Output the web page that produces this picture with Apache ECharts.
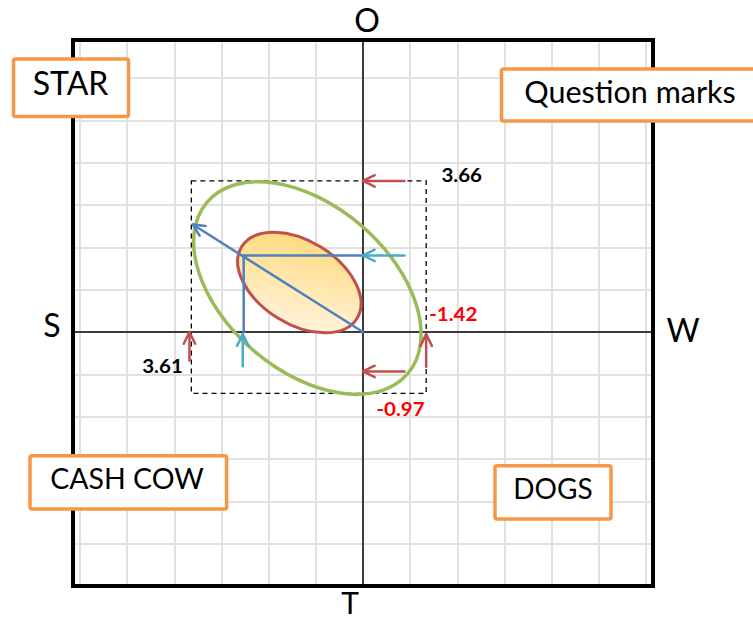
<!DOCTYPE html>
<html><head><meta charset="utf-8">
<script src="https://cdn.jsdelivr.net/npm/echarts@6/dist/echarts.min.js"></script>
<style>html,body{margin:0;padding:0;background:#fff}#c{width:753px;height:622px}</style>
</head><body><div id="c"></div>
<script>
// ---- data ----
const gridXs = [-6, -5, -4, -3, -2, -1, 0, 1, 2, 3, 4, 5, 6];
const gridYs = [-6, -5, -4, -3, -2, -1, 0, 1, 2, 3, 4, 5, 6];
const quadrantNames = ['STAR', 'Question marks', 'CASH COW', 'DOGS'];
const axisLetters = ['O', 'T', 'S', 'W'];
const edgeValues = ['3.66', '3.61', '-1.42', '-0.97'];
// ellipse: [centerX, centerY, semiMajor, semiMinor, tiltDeg]
const outerEllipse = [-1.18, 1.04, 2.80, 1.75, 40.6];
const innerEllipse = [-1.35, 1.17, 1.44, 0.88, 32];
// box: [xMin, xMax, yMin, yMax]
const dashedBox = [-3.64, 1.34, -1.45, 3.57];
// segments: [x1, y1, x2, y2]
const blueLines = [[-2.52, 1.81, 0, 1.81], [-2.53, 1.81, -2.53, 0]];
const blueArrow = [[0, 0, -3.61, 2.54]];
const cyanArrows = [[0.88, 1.81, 0.0, 1.81], [-2.55, -0.81, -2.55, -0.05]];
const redArrows = [[0.88, 3.57, 0.0, 3.57], [0.88, -0.93, 0.0, -0.93], [-3.68, -0.68, -3.68, 0.0], [1.34, -0.82, 1.34, -0.05]];

// ---- helpers ----
function arrowSeries(name, data, color, head, z) {
  return {
    type: 'custom', name: name, coordinateSystem: 'cartesian2d', z: z, silent: true,
    data: data, encode: { x: [0, 2], y: [1, 3] },
    renderItem: function (params, api) {
      const p1 = api.coord([api.value(0), api.value(1)]);
      const p2 = api.coord([api.value(2), api.value(3)]);
      const children = [{ type: 'line', shape: { x1: p1[0], y1: p1[1], x2: p2[0], y2: p2[1] },
        style: { stroke: color, lineWidth: 2.5, lineCap: 'round' } }];
      if (head) {
        const dx = p2[0] - p1[0], dy = p2[1] - p1[1], len = Math.hypot(dx, dy);
        const ux = dx / len, uy = dy / len, L = 13, a = 26 * Math.PI / 180;
        const w = function (s) {
          return [p2[0] - L * (ux * Math.cos(a) - s * uy * Math.sin(a)),
                  p2[1] - L * (uy * Math.cos(a) + s * ux * Math.sin(a))];
        };
        children.push({ type: 'polyline', shape: { points: [w(1), p2, w(-1)] },
          style: { stroke: color, fill: null, lineWidth: 2.5, lineJoin: 'round', lineCap: 'round' } });
      }
      return { type: 'group', children: children };
    }
  };
}
function ellipseSeries(name, e, styleFn, z) {
  return {
    type: 'custom', name: name, coordinateSystem: 'cartesian2d', z: z, silent: true,
    data: [e], encode: { x: 0, y: 1 },
    renderItem: function (params, api) {
      const c = api.coord([api.value(0), api.value(1)]);
      const rx = api.size([api.value(2), 0])[0];
      const ry = api.size([api.value(3), 0])[0];
      const th = api.value(4) * Math.PI / 180;
      return { type: 'ellipse', x: c[0], y: c[1], rotation: -th,
        shape: { cx: 0, cy: 0, rx: rx, ry: ry }, style: styleFn(th) };
    }
  };
}

const chart = echarts.init(document.getElementById('c'), null, { renderer: 'svg' });
const font = 'Lato';

function box(x, y, w, h, text, tx, ty, size) {
  return [
    { type: 'rect', z: 50, shape: { x: x, y: y, width: w, height: h, r: 2 },
      style: { fill: '#fff', stroke: '#F79646', lineWidth: 3.5 } },
    { type: 'text', z: 51, x: tx, y: ty,
      style: { text: text, fontFamily: font, fontSize: size, fill: '#000', align: 'center', verticalAlign: 'middle' } }
  ];
}
function label(text, x, y, size, color, weight, sx) {
  return { type: 'text', z: 52, x: x, y: y, scaleX: sx || 1,
    style: { text: text, fontFamily: font, fontSize: size, fontWeight: weight, fill: color, align: 'center', verticalAlign: 'middle' } };
}

const graphics = [].concat(
  box(13.5, 59, 115, 57.5, quadrantNames[0], 70.5, 82.5, 32),
  box(501.5, 69, 270, 52, quadrantNames[1], 630, 91, 30.5),
  box(30, 455.7, 196.6, 53.3, quadrantNames[2], 127, 477.5, 28.5),
  box(495, 465.7, 116, 53.3, quadrantNames[3], 553, 488, 28),
  [
    label(axisLetters[0], 367, 19, 32, '#000', 'normal'),
    label(axisLetters[1], 350, 602, 30, '#000', 'normal'),
    label(axisLetters[2], 52, 324, 32, '#000', 'normal'),
    label(axisLetters[3], 683, 329, 32, '#000', 'normal'),
    label(edgeValues[0], 461.7, 174, 19, '#000', 'bold', 1.08),
    label(edgeValues[1], 162.5, 365, 19, '#000', 'bold', 1.08),
    label(edgeValues[2], 453.3, 313.5, 19, '#FF0000', 'bold', 1.08),
    label(edgeValues[3], 400.5, 408, 19, '#FF0000', 'bold', 1.08)
  ]
);

const axisCommon = {
  type: 'value', z: 3,
  axisLine: { show: true, onZero: true, lineStyle: { color: '#3c3c3c', width: 2 } },
  axisTick: { show: false }, axisLabel: { show: false }, splitLine: { show: false }
};

const option = {
  animation: false,
  grid: { left: 73, right: 100, top: 40, bottom: 36, show: true, z: 10,
    backgroundColor: 'transparent', borderColor: '#000', borderWidth: 4 },
  xAxis: Object.assign({}, axisCommon, { min: -6.15, max: 6.15 }),
  yAxis: Object.assign({}, axisCommon, { min: -6, max: 6.9 }),
  graphic: graphics,
  series: [
    { type: 'line', name: 'grid', data: [], z: 1, silent: true,
      markLine: { silent: true, z: 1, symbol: ['none', 'none'], animation: false, label: { show: false },
        lineStyle: { color: '#e1e1e1', width: 2, type: 'solid' },
        emphasis: { disabled: true },
        data: gridXs.map(function (v) { return { xAxis: v }; }).concat(gridYs.map(function (v) { return { yAxis: v }; })) } },
    { type: 'custom', name: 'box', coordinateSystem: 'cartesian2d', z: 4, silent: true,
      data: [dashedBox], encode: { x: [0, 1], y: [2, 3] },
      renderItem: function (params, api) {
        const a = api.coord([api.value(0), api.value(3)]);
        const b = api.coord([api.value(1), api.value(2)]);
        return { type: 'rect', shape: { x: a[0], y: a[1], width: b[0] - a[0], height: b[1] - a[1] },
          style: { fill: null, stroke: '#000', lineWidth: 1.3, lineDash: [5, 4] } };
      } },
    ellipseSeries('outer', outerEllipse, function () {
      return { fill: null, stroke: '#9BBB59', lineWidth: 3.5 };
    }, 5),
    ellipseSeries('inner', innerEllipse, function (th) {
      const s = Math.sin(th), c = Math.cos(th);
      return { stroke: '#C0504D', lineWidth: 3,
        fill: { type: 'linear', x: 0.5 - 0.5 * s, y: 0.5 - 0.5 * c, x2: 0.5 + 0.5 * s, y2: 0.5 + 0.5 * c,
          colorStops: [{ offset: 0, color: '#FFDA80' }, { offset: 1, color: '#FFF3DA' }] } };
    }, 6),
    arrowSeries('blueLines', blueLines, '#4F81BD', false, 7),
    arrowSeries('blueArrow', blueArrow, '#4F81BD', true, 7),
    arrowSeries('cyanArrows', cyanArrows, '#4BACC6', true, 7),
    arrowSeries('redArrows', redArrows, '#C0504D', true, 7)
  ]
};
chart.setOption(option);
</script></body></html>
